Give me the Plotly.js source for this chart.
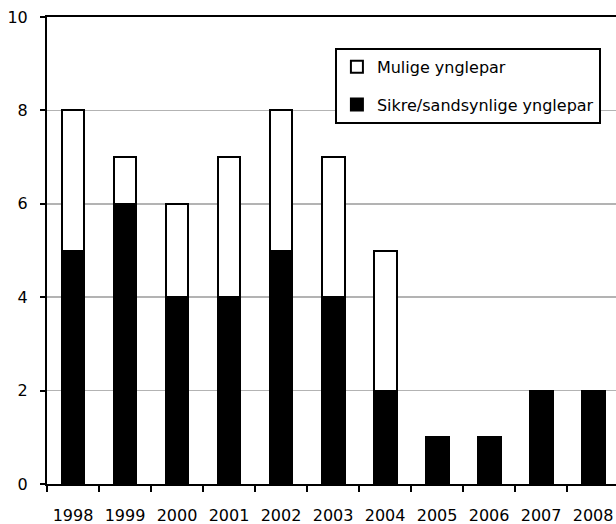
<!DOCTYPE html>
<html>
<head>
<meta charset="utf-8">
<script src="https://cdn.plot.ly/plotly-3.0.1.min.js"></script>
<style>html,body{margin:0;padding:0;background:#fff;}#chart{width:616px;height:524px;}</style>
</head>
<body>
<div id="chart"></div>
<script>
var years = ["1998","1999","2000","2001","2002","2003","2004","2005","2006","2007","2008"];
var sikre = [5, 6, 4, 4, 5, 4, 2, 1, 1, 2, 2];
var mulige = [3, 1, 2, 3, 3, 3, 3, 0, 0, 0, 0];
var yTicks = [0, 2, 4, 6, 8, 10];

var traces = [
  {type: "bar", name: "Sikre/sandsynlige ynglepar", x: years, y: sikre, width: 0.44,
   legendgroup: "a", legendrank: 2,
   marker: {color: "#000000", line: {color: "#000000", width: 2}}},
  {type: "bar", name: "Mulige ynglepar", x: years, y: mulige, width: 0.44,
   legendgroup: "b", legendrank: 1,
   marker: {color: "#ffffff", line: {color: "#000000", width: 2}}}
];

var layout = {
  width: 616, height: 524,
  margin: {l: 47, r: 0, t: 17, b: 40},
  paper_bgcolor: "#ffffff", plot_bgcolor: "#ffffff",
  barmode: "stack",
  font: {family: "DejaVu Sans, Verdana, sans-serif", size: 16, color: "#000"},
  showlegend: true,
  legend: {x: 0.506, y: 0.934, xanchor: "left", yanchor: "top",
           bordercolor: "#000", borderwidth: 2, bgcolor: "#fff",
           traceorder: "grouped", tracegroupgap: 14, itemwidth: 30,
           font: {size: 16, family: "DejaVu Sans, Verdana, sans-serif"}},
  xaxis: {type: "category", range: [-0.5, 10.44], tickson: "boundaries",
          ticks: "outside", ticklen: 6, tickwidth: 2, tickcolor: "#000",
          showline: true, linecolor: "#000", linewidth: 2, mirror: true,
          showgrid: false, tickfont: {size: 16}, ticklabelstandoff: 16, fixedrange: true},
  yaxis: {range: [0, 10], tickvals: yTicks, ticktext: yTicks.map(String),
          ticks: "outside", ticklen: 5, tickwidth: 2, tickcolor: "#000",
          showline: true, linecolor: "#000", linewidth: 2,
          showgrid: true, gridcolor: "#b3b3b3", gridwidth: 1.5,
          zeroline: false, tickfont: {size: 16}, ticklabelstandoff: 9}
};

Plotly.newPlot("chart", traces, layout, {displayModeBar: false, staticPlot: true});
</script>
</body>
</html>
